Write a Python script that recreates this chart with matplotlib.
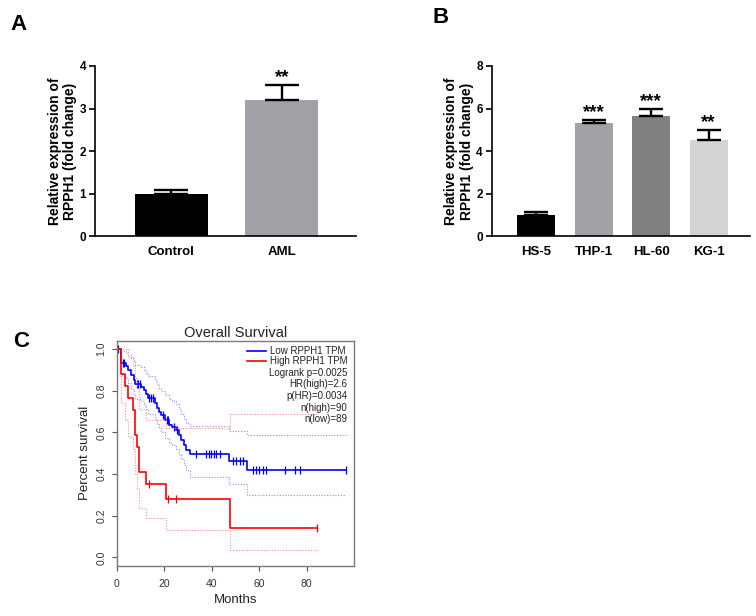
import numpy as np
import matplotlib
matplotlib.use('Agg')
import matplotlib.pyplot as plt

plt.rcParams['font.family'] = ['Liberation Sans', 'DejaVu Sans']

# ===== Data =====
# A: patients
a_groups = ['Control', 'AML']
a_values = [1.0, 3.2]
a_errors = [0.08, 0.36]
a_stars = ['', '**']
a_colors = ['#000000', '#a2a2a6']

# B: cell lines
b_groups = ['HS-5', 'THP-1', 'HL-60', 'KG-1']
b_values = [0.98, 5.33, 5.66, 4.52]
b_errors = [0.14, 0.14, 0.31, 0.46]
b_stars = ['', '***', '***', '**']
b_colors = ['#000000', '#a2a2a6', '#808080', '#d4d4d4']

# C: Kaplan-Meier (GEPIA)
low_times = [0, 1.8, 4.0, 4.9, 6.1, 7.1, 7.8, 10.3, 11.4, 12.4, 13.1, 16.0, 16.9,
             17.8, 18.7, 20.4, 22.2, 23.5, 25.1, 26.2, 27.2, 28.2, 29.0, 30.7, 47.2, 55.1]
low_surv = [1.0, 0.931, 0.918, 0.898, 0.875, 0.851, 0.830, 0.819, 0.803, 0.782, 0.763,
            0.739, 0.718, 0.699, 0.683, 0.659, 0.635, 0.625, 0.610, 0.587, 0.563, 0.538,
            0.514, 0.494, 0.462, 0.421]
low_upper = [1.0, 0.99, 0.98, 0.97, 0.955, 0.94, 0.925, 0.915, 0.90, 0.885, 0.87, 0.85,
             0.83, 0.815, 0.80, 0.78, 0.76, 0.75, 0.735, 0.71, 0.69, 0.665, 0.645, 0.63,
             0.607, 0.587]
low_lower = [1.0, 0.875, 0.86, 0.835, 0.81, 0.785, 0.76, 0.75, 0.73, 0.71, 0.69, 0.665,
             0.64, 0.62, 0.60, 0.575, 0.55, 0.54, 0.52, 0.495, 0.47, 0.445, 0.42, 0.386,
             0.354, 0.301]
low_end = 96.5
low_censor = [0.7, 2.6, 3.1, 8.5, 9.0, 9.8, 13.8, 14.5, 15.2, 19.5, 21.3, 21.8, 24.0,
              25.6, 33.5, 37.8, 38.9, 39.9, 40.9, 42.0, 43.4, 49.0, 50.4, 51.8, 53.2,
              57.5, 58.6, 60.0, 61.7, 63.1, 71.1, 75.2, 77.2, 96.5]

high_times = [0, 2.0, 3.7, 4.6, 6.8, 7.9, 8.6, 9.6, 12.4, 20.8, 47.9]
high_surv = [1.0, 0.882, 0.824, 0.765, 0.706, 0.588, 0.529, 0.412, 0.353, 0.282, 0.141]
high_upper = [1.0, 1.0, 1.0, 0.96, 0.92, 0.86, 0.81, 0.71, 0.66, 0.62, 0.69]
high_lower = [1.0, 0.74, 0.66, 0.58, 0.52, 0.40, 0.33, 0.235, 0.187, 0.13, 0.034]
high_end = 84.5
high_censor = [13.8, 21.7, 25.0, 84.5]

legend_lines = ['Logrank p=0.0025', 'HR(high)=2.6', 'p(HR)=0.0034', 'n(high)=90', 'n(low)=89']

fig = plt.figure(figsize=(7.56, 6.16), dpi=100)


def bar_panel(ax, groups, values, errors, stars, colors, ymax, capsize, xlim):
    x = np.arange(len(groups))
    ax.bar(x, values, width=0.66, color=colors, edgecolor='none', zorder=2)
    ax.errorbar(x, values, yerr=[np.zeros(len(values)), errors], fmt='none',
                ecolor='black', elinewidth=1.7, capsize=capsize, capthick=1.7, zorder=3)
    for xi, v, e, s in zip(x, values, errors, stars):
        if s:
            ax.annotate(s, (xi, v + e), xytext=(0, -1), textcoords='offset points',
                        ha='center', va='bottom', fontsize=13.5, fontweight='bold')
    ax.set_xlim(*xlim)
    ax.set_ylim(0, ymax)
    ax.set_xticks(x)
    ax.set_xticklabels(groups, fontsize=9.5, fontweight='bold')
    ax.tick_params(axis='y', labelsize=8.5, width=1.2, length=4.5, direction='out', pad=2)
    ax.tick_params(axis='x', length=0, pad=7)
    ax.spines['top'].set_visible(False)
    ax.spines['right'].set_visible(False)
    ax.spines['left'].set_linewidth(1.2)
    ax.spines['bottom'].set_linewidth(1.2)
    ax.set_ylabel('Relative expression of\nRPPH1 (fold change)', fontsize=10,
                  fontweight='bold', labelpad=1.5, linespacing=1.15)


# ===== A =====
axA = fig.add_axes([95 / 756, 1 - 236 / 616, 261 / 756, 170 / 616])
bar_panel(axA, a_groups, a_values, a_errors, a_stars, a_colors, 4, 12.5, (-0.69, 1.67))
axA.set_yticks([0, 1, 2, 3, 4])
for lab in axA.get_yticklabels():
    lab.set_fontweight('bold')

# ===== B =====
axB = fig.add_axes([491.7 / 756, 1 - 236 / 616, 258.3 / 756, 170 / 616])
bar_panel(axB, b_groups, b_values, b_errors, b_stars, b_colors, 8, 8.3, (-0.77, 3.72))
axB.set_yticks([0, 2, 4, 6, 8])
for lab in axB.get_yticklabels():
    lab.set_fontweight('bold')

# ===== C =====
axC = fig.add_axes([116.7 / 756, 1 - 565.7 / 616, 237.3 / 756, 225 / 616])


def step_lookup(times, surv, t):
    idx = np.searchsorted(times, t, side='right') - 1
    return np.asarray(surv)[idx]


for times, surv, up, lo, end, cens, col, cicol in [
        (low_times, low_surv, low_upper, low_lower, low_end, low_censor, '#0000ff', '#8c8cff'),
        (high_times, high_surv, high_upper, high_lower, high_end, high_censor, '#ff0000', '#ff8c8c')]:
    t = list(times) + [end]
    axC.step(t, list(up) + [up[-1]], where='post', color=cicol, lw=0.8, ls=(0, (1, 1.5)))
    axC.step(t, list(lo) + [lo[-1]], where='post', color=cicol, lw=0.8, ls=(0, (1, 1.5)))
    axC.step(t, list(surv) + [surv[-1]], where='post', color=col, lw=1.2)
    axC.plot(cens, step_lookup(times, surv, cens), ls='none', marker='|', ms=6,
             mew=0.9, color=col)

axC.set_xlim(0, 100)
axC.set_ylim(-0.04, 1.04)
axC.set_xticks([0, 20, 40, 60, 80])
axC.set_yticks([0, 0.2, 0.4, 0.6, 0.8, 1.0])
axC.set_yticklabels(['0.0', '0.2', '0.4', '0.6', '0.8', '1.0'], rotation=90, va='center')
for sp in axC.spines.values():
    sp.set_color('#7a7a7a')
    sp.set_linewidth(1.0)
axC.tick_params(labelsize=7.5, length=3.5, color='#555555', labelcolor='#333333')
axC.tick_params(axis='x', pad=6)
axC.tick_params(axis='y', pad=4)
axC.set_xlabel('Months', fontsize=9.5, color='#222222', labelpad=4)
axC.set_ylabel('Percent survival', fontsize=9.5, color='#222222', labelpad=4)
axC.set_title('Overall Survival', fontsize=10.5, color='#222222', pad=3)

# legend block
axC.plot([0.549, 0.629], [0.954, 0.954], transform=axC.transAxes, color='#0000ff', lw=1.2)
axC.plot([0.549, 0.629], [0.912, 0.912], transform=axC.transAxes, color='#ff0000', lw=1.2)
axC.text(0.646, 0.954, 'Low RPPH1 TPM', transform=axC.transAxes, fontsize=7,
         va='center', ha='left', color='#222222')
axC.text(0.646, 0.912, 'High RPPH1 TPM', transform=axC.transAxes, fontsize=7,
         va='center', ha='left', color='#222222')
for i, s in enumerate(legend_lines):
    axC.text(0.973, 0.858 - i * 0.052, s, transform=axC.transAxes, fontsize=7,
             va='center', ha='right', color='#222222')

# panel letters
fig.text(10 / 756, 1 - 30 / 616, 'A', fontsize=16, fontweight='bold')
fig.text(433 / 756, 1 - 23 / 616, 'B', fontsize=16, fontweight='bold')
fig.text(13 / 756, 1 - 347 / 616, 'C', fontsize=16, fontweight='bold')

fig.savefig('out.png', dpi=100)
